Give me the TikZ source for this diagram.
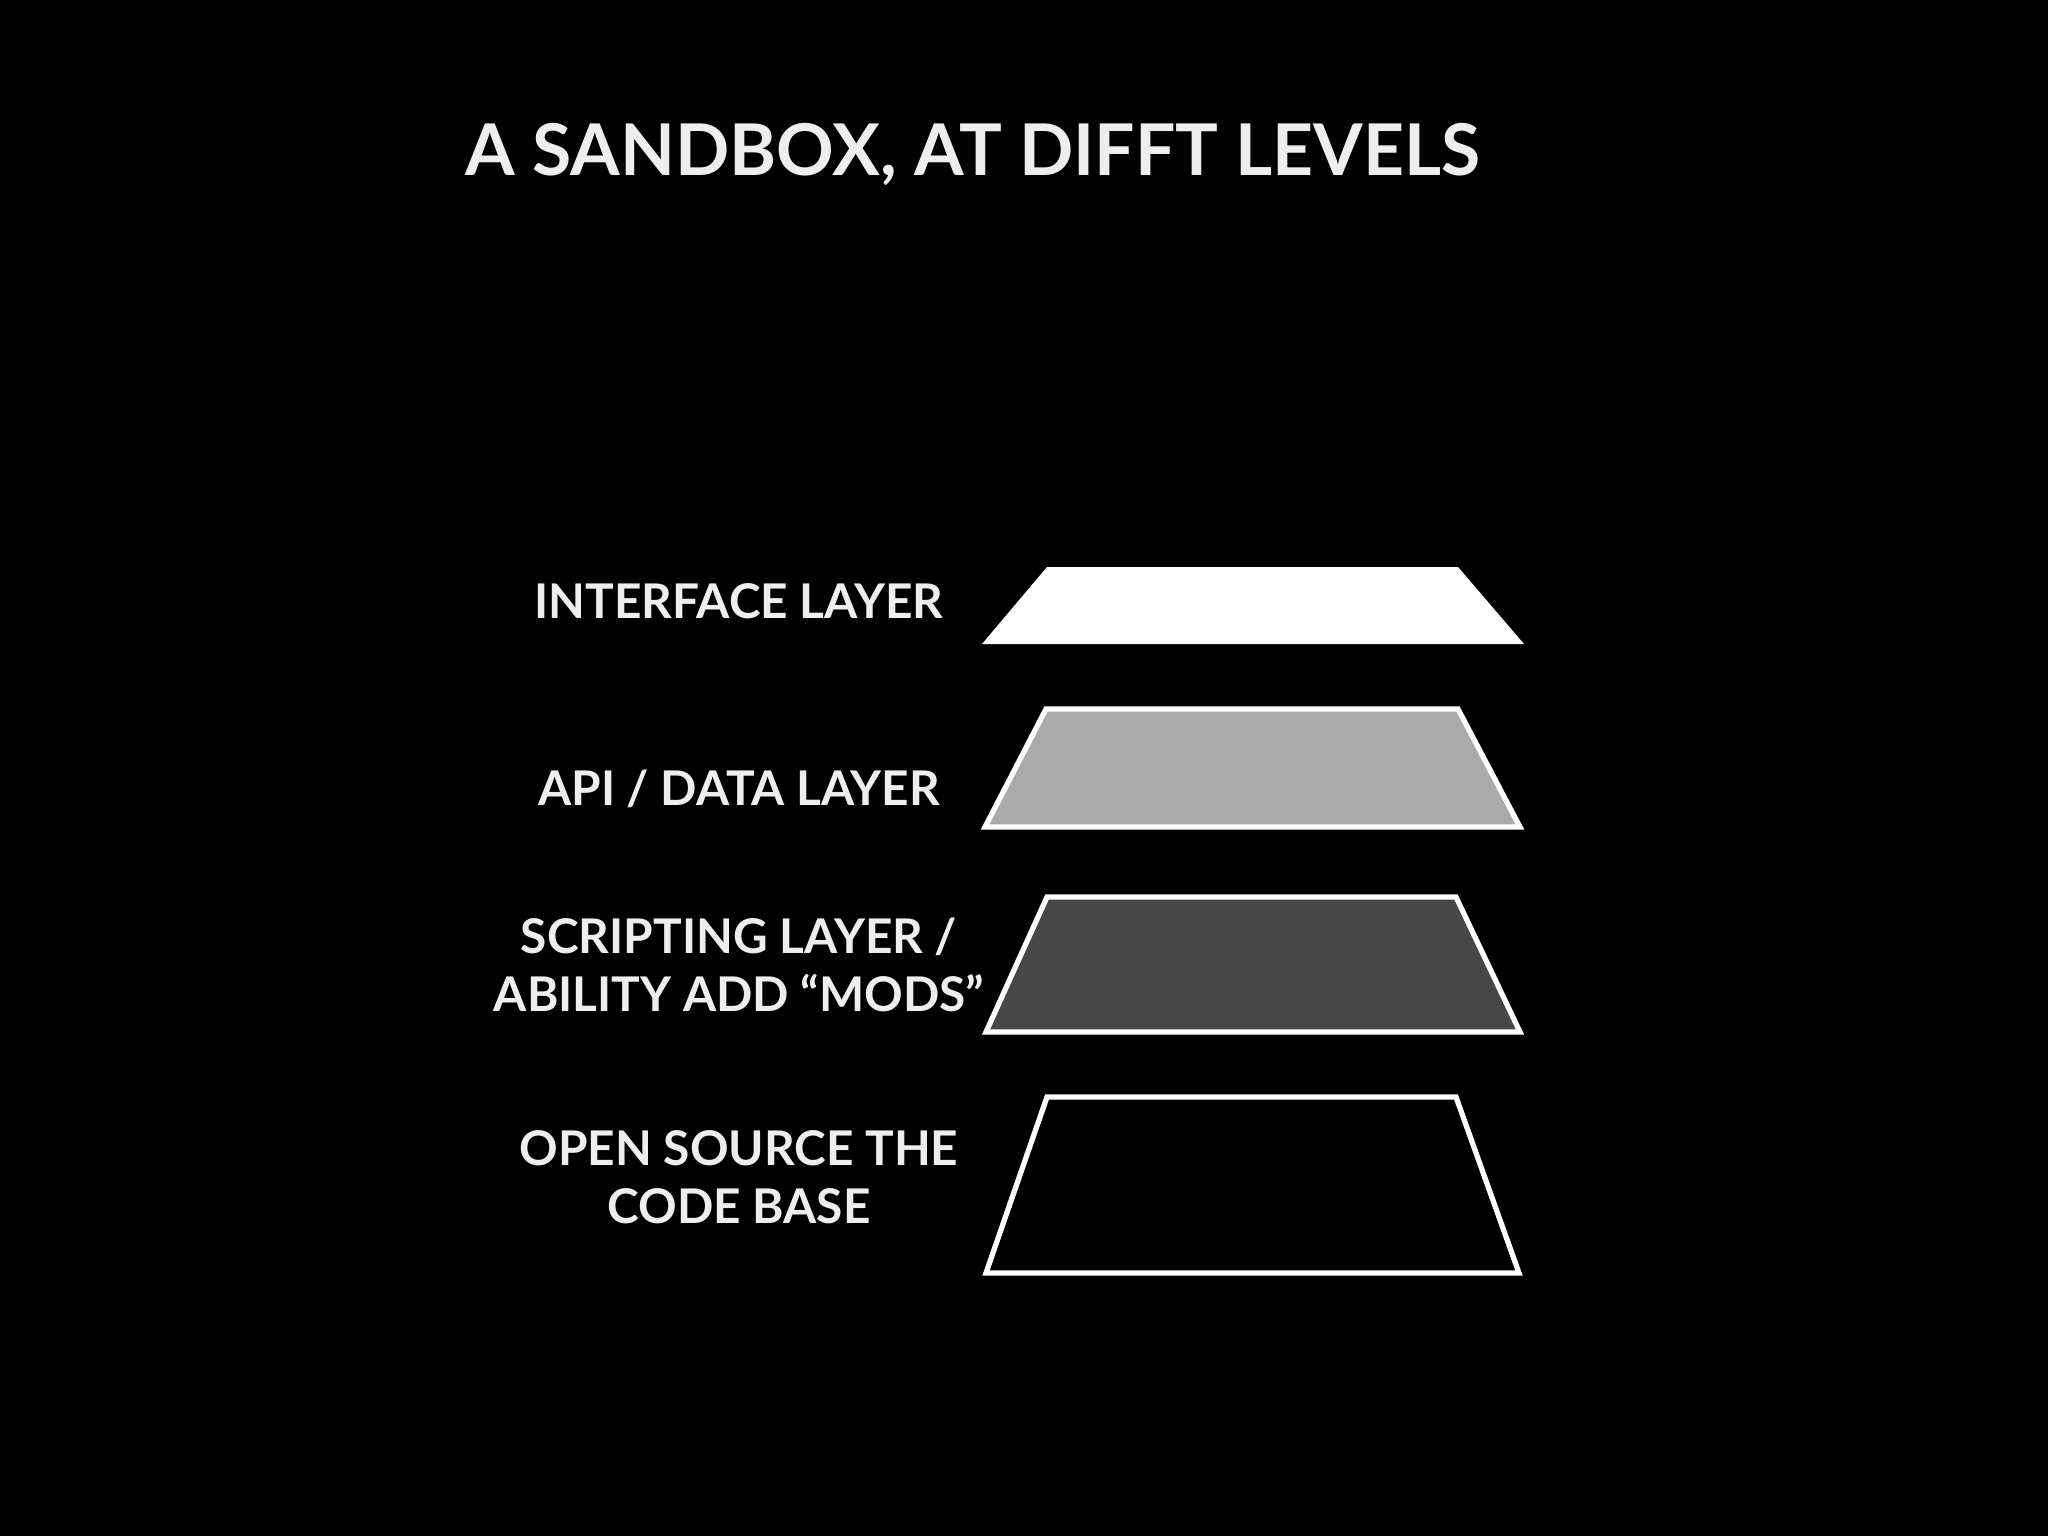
\documentclass[tikz,border=0pt]{standalone}
\usepackage{fontspec}
\setmainfont{Lato}
\usetikzlibrary{positioning}

\definecolor{inkwhite}{HTML}{EEEEEE}
\definecolor{midgray}{HTML}{AAAAAA}
\definecolor{darkgray}{HTML}{474747}

\begin{document}
\begin{tikzpicture}[
    x=0.01cm, y=-0.01cm,
    line width=1.5pt,
    line join=miter,
    every node/.style={align=center, text=inkwhite, font=\bfseries},
    title/.style={font=\bfseries\fontsize{20.3}{24}\selectfont},
    label/.style={font=\bfseries\fontsize{13.6}{16.5}\selectfont},
    layer/.style={draw=white}
]

% ----------------------
% Background
% ----------------------
\fill[black] (0,0) rectangle (2048,1536);
\useasboundingbox (0,0) rectangle (2048,1536);

% Title
\node[title] (title) at (973,154) {A SANDBOX, AT DIFFT LEVELS};

% ----------------------
% Layers
% ----------------------

% Interface layer (solid white)
\fill[white] (1047,567) -- (1458,567) -- (1524,644) -- (982,644) -- cycle;

% API / data layer
\draw[layer, fill=midgray] (1046,709) -- (1458,709) -- (1520,827) -- (985,827) -- cycle;

% Scripting layer
\draw[layer, fill=darkgray] (1047,897) -- (1456,897) -- (1520,1032) -- (986,1032) -- cycle;

% Code base
\draw[layer, fill=black] (1047,1097) -- (1456,1097) -- (1519,1273) -- (986,1273) -- cycle;

% ----------------------
% Labels
% ----------------------
\node[label] (iface) at (739,601) {INTERFACE LAYER};
\node[label] (api) at (739,789) {API / DATA LAYER};
\node[label] (script) at (739,965) {SCRIPTING LAYER /\\ABILITY ADD “MODS”};
\node[label] (code) at (739,1177) {OPEN SOURCE THE\\CODE BASE};

\end{tikzpicture}
\end{document}
